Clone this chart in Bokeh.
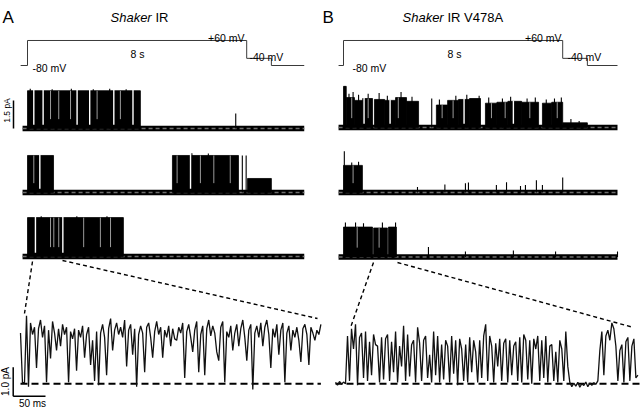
import numpy as np
from bokeh.plotting import figure
from bokeh.models import Range1d
from bokeh.embed import file_html
from bokeh.resources import INLINE
from bokeh.core.properties import value

FONT = value("Liberation Sans")

# ---------------- data ----------------
# voltage protocol: step times (s) and potentials (mV)
prot_t_A = [-0.25, 0.0, 8.0, 8.9, 10.1]
prot_t_B = [-0.18, 0.0, 8.0, 8.9, 10.0]
prot_mv = [-80, 60, -40, -80, -80]
prot_labels = ["-80 mV", "8 s", "+60 mV", "-40 mV"]

# sweep spans (s)
span_A = [-0.18, 10.1]
span_B = [-0.18, 10.0]

# Shaker IR sweeps: open blocks (s, s, pA), full closures, brief flickers, spikes
A1_start = [0.0];  A1_end = [4.12];  A1_top = [2.02]
A1_gaps = [0.23, 0.57, 1.81, 2.27, 3.15, 3.85]
A1_flick = [0.84, 1.14, 1.57, 2.54, 3.39]
A1_spk_t = [0.1, 0.9, 1.6, 2.4, 3.0, 3.6, 7.6];  A1_spk_pA = [2.12, 2.1, 2.12, 2.1, 2.12, 2.1, 0.8]

A2_start = [0.0, 5.29, 8.03];  A2_end = [0.95, 7.70, 8.9];  A2_top = [1.98, 1.98, 0.75]
A2_gaps = [0.45, 5.95]
A2_flick = [0.23, 5.46, 6.31, 6.8, 7.4]
A2_spk_t = [7.84, 7.98, 6.0, 6.6];  A2_spk_pA = [1.98, 1.98, 2.1, 2.08]

A3_start = [0.0];  A3_end = [3.50];  A3_top = [2.08]
A3_gaps = [0.29, 1.29]
A3_flick = [0.84, 0.96, 1.14, 2.05, 2.66, 3.03]
A3_spk_t = [0.5, 1.8, 2.9];  A3_spk_pA = [2.15, 2.15, 2.15]

# Shaker IR V478A sweeps
B1_start = [0.0, 0.1, 0.4, 0.7, 1.13, 1.5, 1.9, 2.3, 3.39, 3.8, 4.2, 4.6, 5.18, 5.6, 6.0, 6.5, 7.26, 7.6, 8.0]
B1_end = [0.1, 0.4, 0.7, 1.06, 1.5, 1.9, 2.3, 2.74, 3.8, 4.2, 4.6, 5.0, 5.6, 6.0, 6.5, 7.12, 7.6, 8.0, 8.9]
B1_top = [2.2, 1.6, 1.45, 1.55, 1.5, 1.45, 1.6, 1.4, 1.2, 1.45, 1.5, 1.55, 1.3, 1.35, 1.4, 1.35, 1.3, 1.35, 0.25]
B1_gaps = [0.75, 1.7, 4.4, 6.2]
B1_flick = [0.3, 0.9, 2.0, 3.6, 4.0, 5.4, 5.9, 6.8, 7.8]
B1_spk_t = [0.05, 0.2, 0.35, 0.55, 0.9, 1.3, 1.6, 2.1, 2.5, 3.22, 3.5, 4.1, 4.5, 4.95, 5.3,
            5.8, 6.1, 6.7, 7.0, 7.4, 7.7, 7.95, 8.3, 8.6]
B1_spk_pA = [2.2, 1.8, 1.9, 1.75, 1.8, 1.85, 1.7, 1.9, 1.65, 1.55, 1.5, 1.7, 1.75, 1.7, 1.6,
             1.55, 1.65, 1.55, 1.6, 1.5, 1.55, 1.6, 0.45, 0.35]

B2_start = [0.0];  B2_end = [0.69];  B2_top = [1.45]
B2_gaps = [];  B2_flick = [0.35]
B2_spk_t = [0.03, 0.3, 0.55, 2.7, 3.7, 4.45, 4.56, 5.58, 5.95, 6.46, 6.64, 7.04, 7.26, 8.0]
B2_spk_pA = [2.2, 1.6, 1.65, 0.3, 0.43, 0.5, 0.53, 0.4, 0.55, 0.35, 0.4, 0.65, 0.4, 0.8]

B3_start = [0.0, 1.1, 1.64];  B3_end = [1.06, 1.6, 1.93];  B3_top = [1.6, 1.55, 1.6]
B3_gaps = [];  B3_flick = [0.5, 1.3]
B3_spk_t = [0.07, 0.44, 0.73, 1.42, 1.9, 3.1, 4.45, 6.2, 7.74, 10.0]
B3_spk_pA = [1.85, 1.85, 1.8, 1.85, 1.85, 0.53, 0.3, 0.35, 0.3, 0.3]

# expanded segments (pA), sampled every 3.1 ms
zoom_dt_ms = 3.1
zoomA_pA = [1.75, 0.02, 0.05, 2.35, -0.1, 2.1, 1.7, 1.95, 0.55, 1.9,
            2.2, 1.6, 2.0, 0.05, 1.85, 0.87, 2.15, 1.75, 1.15, 1.9,
            1.3, 2.05, 1.7, 1.95, 0.05, 1.8, 1.55, 1.9, 0.45, 1.85,
            1.6, 2.0, 0.9, 1.7, 1.95, 0.65, 1.5, 0.1, 1.8, -0.05,
            1.75, 2.05, 1.6, 0.3, 1.9, 2.25, 1.15, 1.85, 2.1, 1.7,
            1.95, 1.6, 2.2, 0.6, 1.85, 2.05, 1.0, 1.9, -0.1, 1.7,
            2.0, 1.75, 0.4, 1.95, 2.1, 1.6, 0.9, 1.8, 2.15, 1.7,
            1.95, 0.9, 1.85, 1.6, 2.0, 1.3, 1.9, 1.55, 1.5, 1.95,
            1.75, 2.1, 0.2, 1.8, 2.05, 1.6, 1.1, 1.85, 2.15, 0.4,
            1.7, 2.0, 0.3, 1.9, 2.2, 1.65, 2.0, 1.75, 1.1, 0.8,
            1.95, 2.15, 0.05, 1.8, 1.6, 2.0, 1.15, 1.75, 2.05, 1.3,
            1.9, 2.2, 1.6, 0.8, 1.85, 2.05, -0.2, 1.75, 2.0, 1.6,
            2.1, 1.3, 1.95, 2.2, 1.7, 0.55, 1.9, 1.6, 2.05, 1.0,
            1.85, 2.1, 0.05, 1.75, 2.0, 1.15, 1.85, 1.6, 1.95, 1.5,
            0.75, 1.9, 2.05, 1.7, 0.65, 1.95, 1.75, 1.5, 1.85, 1.7,
            2.05]
zoomB_pA = [0.05, -0.05, 0.08, -0.02, 0.06, 0.0, 1.65, 0.1, 1.9, 1.2,
            2.05, -0.05, 1.6, 1.75, 0.2, 1.8, 0.1, 1.45, 0.3, 1.7,
            1.35, 1.3, 0.05, 1.6, 0.15, 1.55, 1.7, 0.1, 1.45, 0.4,
            1.8, 0.05, 1.3, 0.6, 2.0, 0.1, 1.7, 0.25, 1.35, 1.5,
            0.05, 1.95, 1.4, 0.1, 1.5, 1.65, 0.2, 1.0, 0.05, 1.8,
            0.3, 1.65, 0.05, 1.35, 0.15, 1.5, 1.3, 0.05, 1.65, 0.35,
            1.5, -0.05, 1.55, 1.2, 0.1, 1.35, 0.05, 1.6, 0.4, 1.5,
            1.1, 0.05, 1.5, 0.2, 1.65, 2.05, 0.1, 1.65, 1.3, 0.05,
            1.4, 0.6, 1.55, 0.1, 1.4, 1.55, 0.05, 1.5, 0.3, 1.3,
            1.45, 0.1, 1.6, 0.05, 1.7, 1.5, 0.15, 1.5, 0.0, 1.55,
            1.2, 1.65, 0.1, 1.5, 0.2, 1.65, 0.05, 1.3, 1.35, 0.1,
            1.1, 0.05, 1.5, 1.2, 0.1, 1.8, 0.6, 0.05, -0.1, 0.02,
            -0.08, 0.05, -0.12, 0.0, -0.06, 0.06, -0.1, 0.03, -0.05, 0.04,
            -0.02, 0.1, 1.15, 1.8, 0.3, 1.65, 1.85, 1.5, 2.1, 1.9,
            1.3, 0.1, 1.15, 1.35, 0.05, 1.45, 1.6, 0.1, 1.3, 1.55,
            0.2, 0.3]

scale_top_pA = 1.5
scale_zoom_pA = 1.0
scale_zoom_ms = 50

# ---------------- layout (pixel frame 640 x 407) ----------------
W, H = 640, 407


def xr(x0, s):
    return Range1d(start=(0 - x0) / s, end=(W - x0) / s)


def yr(y0, s):
    return Range1d(start=(y0 - H) / s, end=y0 / s)


p = figure(width=W, height=H, x_range=Range1d(0, W), y_range=Range1d(H, 0),
           output_backend="svg", toolbar_location=None, min_border=0,
           x_axis_location=None, y_axis_location=None, outline_line_color=None,
           background_fill_color="white", border_fill_color="white")
p.grid.grid_line_color = None

SEC_PX = 27.4
PA_PX = 18.7
MS_PX = 0.646
ZPA_PX = 29.0
MV_PX = 0.1786

p.extra_x_ranges = {"secA": xr(27, SEC_PX), "secB": xr(343, SEC_PX),
                    "msA": xr(20, MS_PX), "msB": xr(335, MS_PX)}
p.extra_y_ranges = {"prot": yr(65 - 80 * MV_PX, MV_PX),
                    "A1": yr(128, PA_PX), "A2": yr(192, PA_PX), "A3": yr(256, PA_PX),
                    "B1": yr(127, PA_PX), "B2": yr(192, PA_PX), "B3": yr(256.5, PA_PX),
                    "zA": yr(383.3, ZPA_PX), "zB": yr(383.3, ZPA_PX)}

# protocols
p.step(prot_t_A, prot_mv, mode="after", x_range_name="secA", y_range_name="prot",
       line_color="#3a3a3a", line_width=1)
p.step(prot_t_B, prot_mv, mode="after", x_range_name="secB", y_range_name="prot",
       line_color="#3a3a3a", line_width=1)


def local_top(t, st, en, top):
    for a, b, h in zip(st, en, top):
        if a <= t <= b:
            return h
    return max(top)


def sweep(xn, yn, span, st, en, top, gaps, flick, spk_t, spk_pA):
    kw = dict(x_range_name=xn, y_range_name=yn)
    p.line(span, [0, 0], line_color="black", line_width=5.5, **kw)
    p.line(span, [0, 0], line_color="#6e6e6e", line_width=1.3, line_dash="4 3", **kw)
    p.quad(left=st, right=en, bottom=[0] * len(st), top=top,
           fill_color="black", line_color="black", line_width=0.8, **kw)
    if spk_t:
        p.segment(x0=spk_t, y0=[0] * len(spk_t), x1=spk_t, y1=spk_pA,
                  line_color="black", line_width=1.1, **kw)
    if flick:
        p.segment(x0=flick, y0=[0.5] * len(flick), x1=flick,
                  y1=[local_top(f, st, en, top) for f in flick],
                  line_color="#9a9a9a", line_width=1, **kw)
    if gaps:
        p.segment(x0=gaps, y0=[0.2] * len(gaps), x1=gaps,
                  y1=[local_top(g, st, en, top) + 0.05 for g in gaps],
                  line_color="white", line_width=1.4, **kw)


sweep("secA", "A1", span_A, A1_start, A1_end, A1_top, A1_gaps, A1_flick, A1_spk_t, A1_spk_pA)
sweep("secA", "A2", span_A, A2_start, A2_end, A2_top, A2_gaps, A2_flick, A2_spk_t, A2_spk_pA)
sweep("secA", "A3", span_A, A3_start, A3_end, A3_top, A3_gaps, A3_flick, A3_spk_t, A3_spk_pA)
sweep("secB", "B1", span_B, B1_start, B1_end, B1_top, B1_gaps, B1_flick, B1_spk_t, B1_spk_pA)
sweep("secB", "B2", span_B, B2_start, B2_end, B2_top, B2_gaps, B2_flick, B2_spk_t, B2_spk_pA)
sweep("secB", "B3", span_B, B3_start, B3_end, B3_top, B3_gaps, B3_flick, B3_spk_t, B3_spk_pA)

# expanded records
tA = [i * zoom_dt_ms for i in range(len(zoomA_pA))]
tB = [i * zoom_dt_ms for i in range(len(zoomB_pA))]
p.line([tA[0], tA[-1]], [0, 0], x_range_name="msA", y_range_name="zA",
       line_color="black", line_width=2, line_dash="7 4")
p.line([tB[0], (W - 335) / MS_PX], [0, 0], x_range_name="msB", y_range_name="zB",
       line_color="black", line_width=2, line_dash="7 4")
p.line(tA, zoomA_pA, x_range_name="msA", y_range_name="zA", line_color="#111111", line_width=1.3)
p.line(tB, zoomB_pA, x_range_name="msB", y_range_name="zB", line_color="#111111", line_width=1.3)

# connectors
for (x0, y0, x1, y1) in [(32, 261, 24, 313), (62, 260, 317, 318),
                         (373, 262, 350, 327), (397, 262, 633, 327)]:
    p.line([x0, x1], [y0, y1], line_color="black", line_width=1.4, line_dash="4 3")

# scale bars
p.segment(x0=[13], y0=[0], x1=[13], y1=[scale_top_pA], y_range_name="A1",
          line_color="black", line_width=1.5)
bar_y = (383.3 - 395.7) / ZPA_PX
bar_t = (12.7 - 20) / MS_PX
p.segment(x0=[12.7], y0=[bar_y], x1=[12.7], y1=[bar_y + scale_zoom_pA], y_range_name="zA",
          line_color="black", line_width=1.5)
p.segment(x0=[bar_t], y0=[bar_y], x1=[bar_t + scale_zoom_ms], y1=[bar_y],
          x_range_name="msA", y_range_name="zA", line_color="black", line_width=1.5)


# texts
def txt(x, y, s, size, align="left", baseline="alphabetic", style="normal", angle=0):
    p.text(x=[x], y=[y], text=[s], text_font=FONT, text_font_size=size,
           text_align=align, text_baseline=baseline, text_font_style=style,
           angle=angle, text_color="black")


txt(2, 17, "A", "17px")
txt(322, 17, "B", "17px")
txt(110, 17, "Shaker", "13px", style="italic")
txt(155, 17, "IR", "13px")
txt(402, 17, "Shaker", "13px", style="italic")
txt(447, 17, "IR V478A", "13px")

for (xa, xb, xc, xd) in [(32, 130, 244, 249), (352, 447, 561, 567)]:
    txt(xa, 67, prot_labels[0], "10.5px")
    txt(xb, 53, prot_labels[1], "10.5px")
    txt(xc, 37.5, prot_labels[2], "10.5px", align="right")
    txt(xd, 56, prot_labels[3], "10.5px")

txt(6, 110, f"{scale_top_pA} pA", "8.5px", align="center", baseline="middle", angle=np.pi / 2)
txt(5, 381, f"{scale_zoom_pA} pA", "10px", align="center", baseline="middle", angle=np.pi / 2)
txt(32, 397, f"{scale_zoom_ms} ms", "10px", align="center", baseline="top")

open("out.html", "w").write(file_html(p, INLINE))
